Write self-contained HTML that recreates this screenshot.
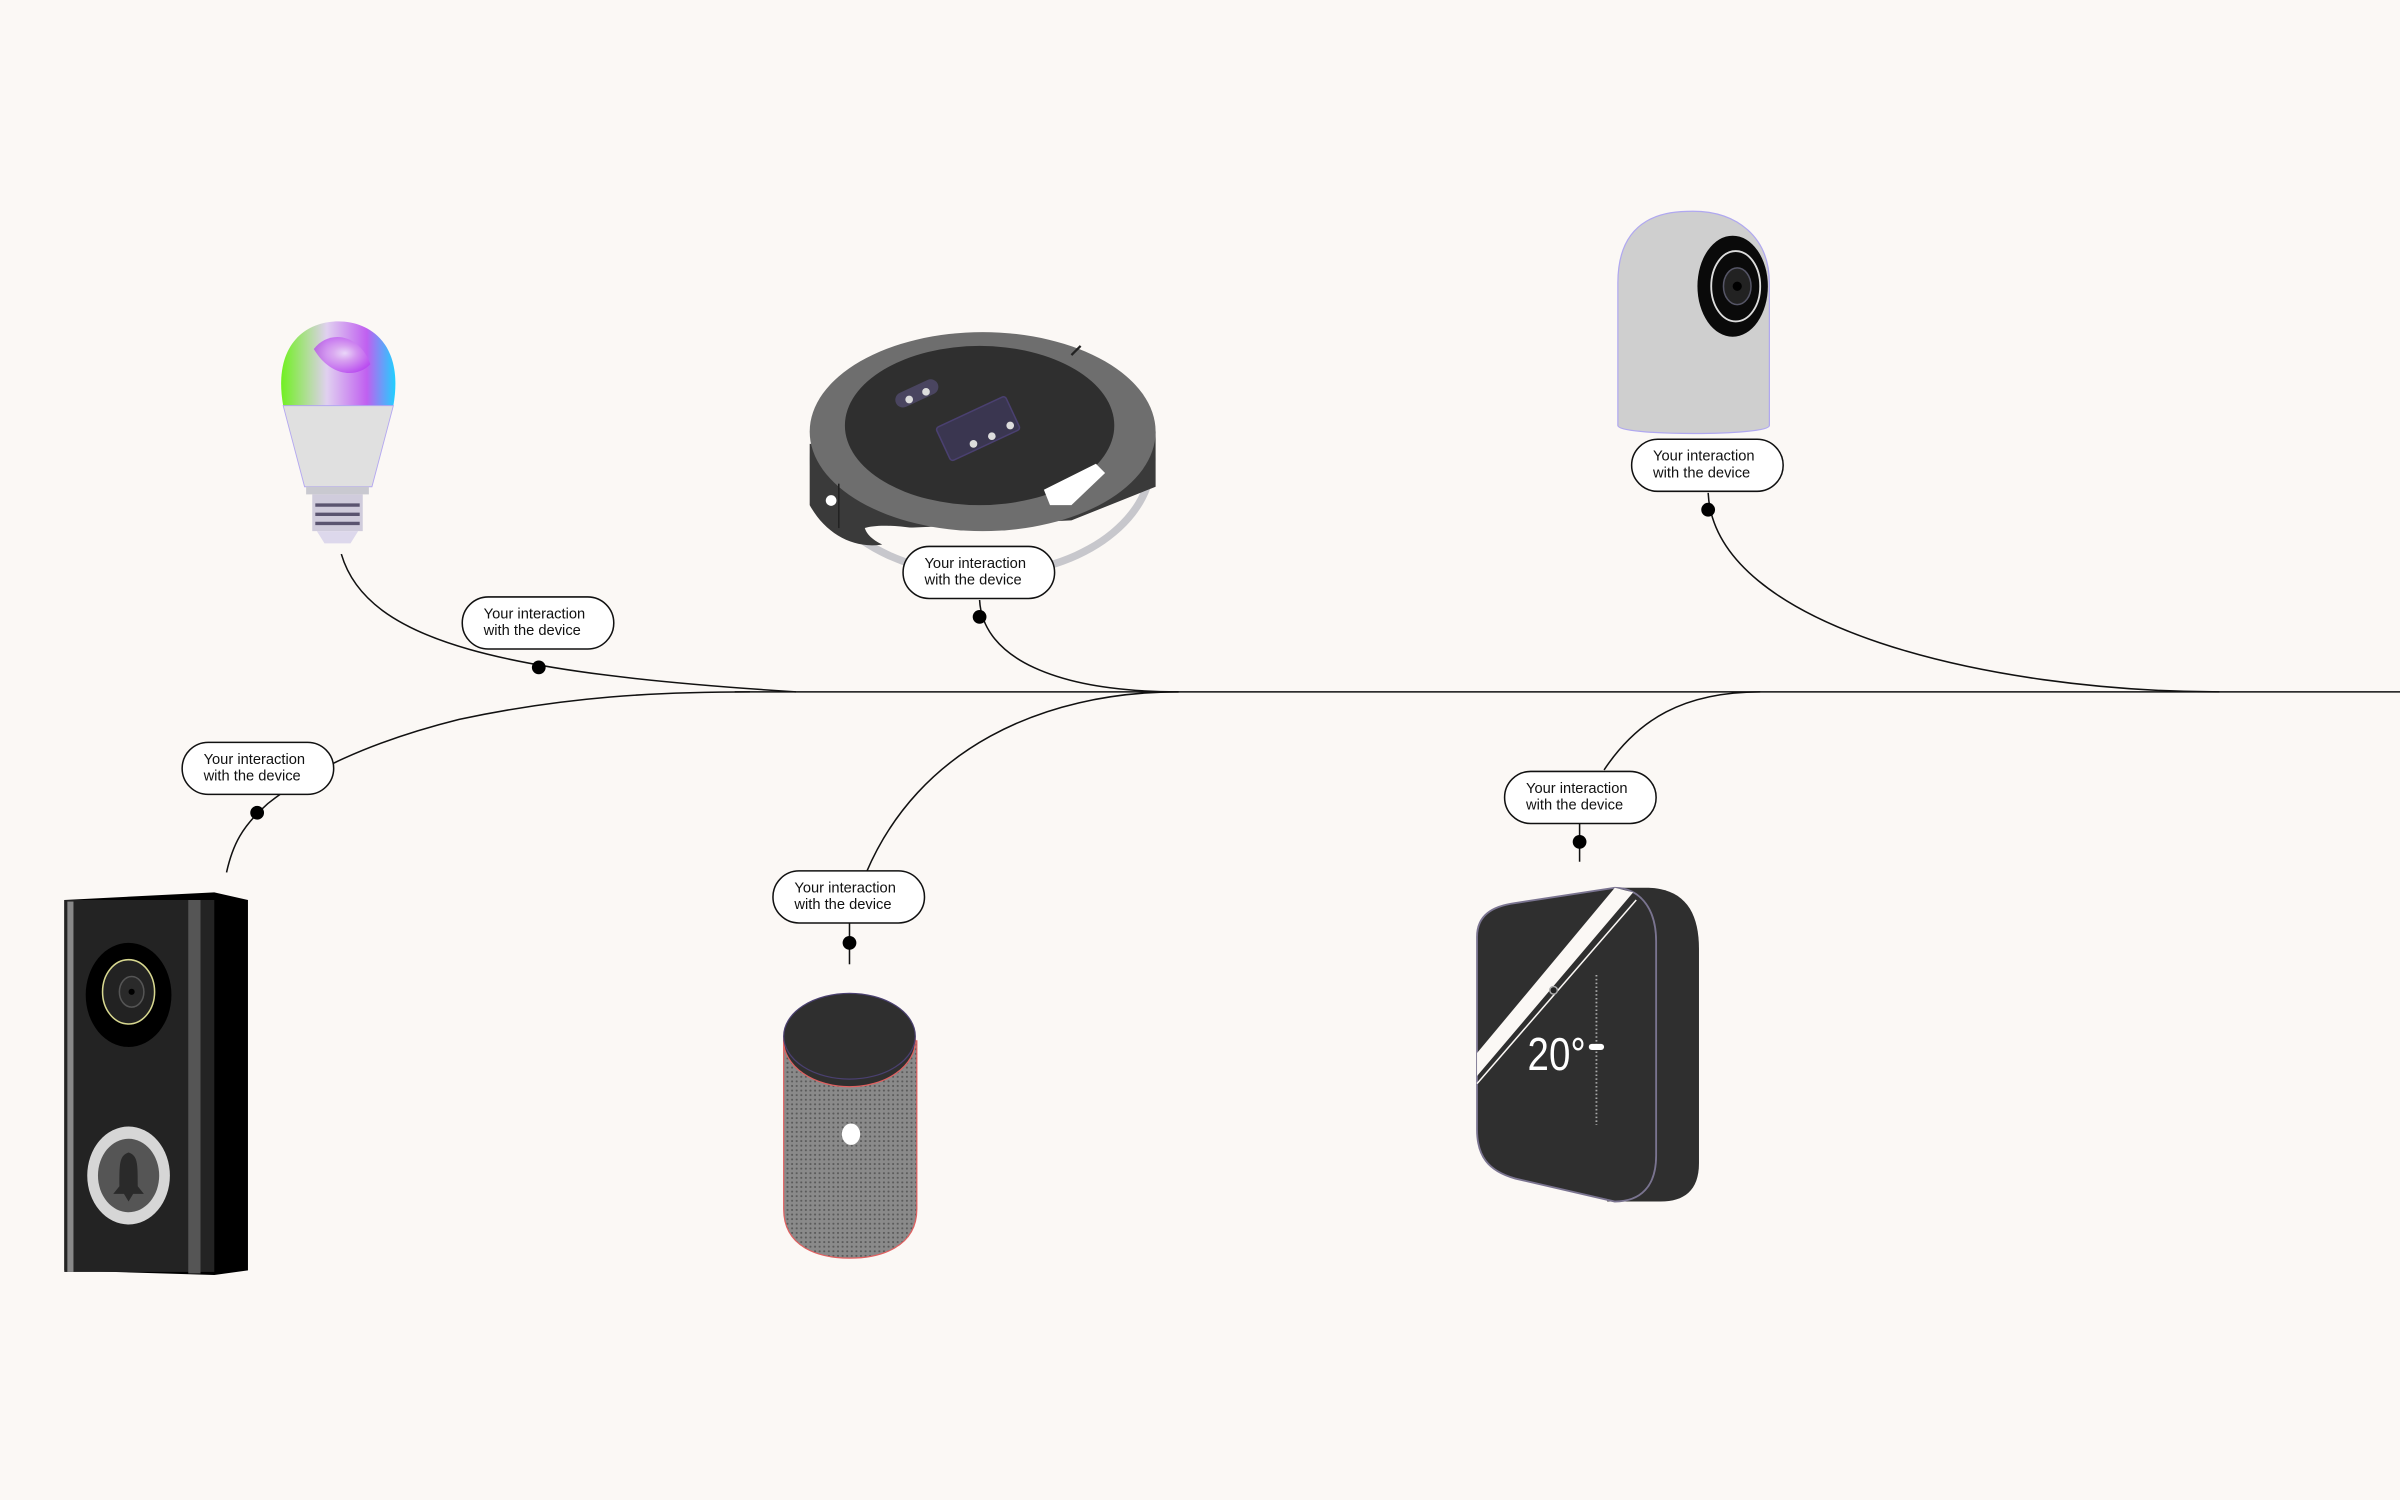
<!DOCTYPE html>
<html><head><meta charset="utf-8"><style>
html,body{margin:0;padding:0;background:#fbf8f5;}
svg{display:block}
text{font-family:"Liberation Sans",sans-serif;font-size:9.6px;fill:#111;}
</style></head><body>
<svg width="2400" height="1500" viewBox="0 0 1568 980" xmlns="http://www.w3.org/2000/svg">
<defs>
<radialGradient id="bulb" cx="0.55" cy="0.45" r="0.6">
<stop offset="0" stop-color="#f4eefc"/><stop offset="0.35" stop-color="#d9a0f0"/><stop offset="1" stop-color="#b030f0"/>
</radialGradient>
<linearGradient id="bulbh" x1="0" x2="1" y1="0" y2="0">
<stop offset="0" stop-color="#70f020"/><stop offset="0.4" stop-color="#e0d0f0"/><stop offset="0.75" stop-color="#c060f0"/><stop offset="1" stop-color="#20d0ff"/>
</linearGradient>
<pattern id="dots" width="3" height="3" patternUnits="userSpaceOnUse"><rect width="3" height="3" fill="#8a8a8a"/><circle cx="1.5" cy="1.5" r="0.7" fill="#5a5a5a"/></pattern>
</defs>
<rect width="1568" height="980" fill="#fbf8f5"/>

<g fill="none" stroke="#111" stroke-width="1">
<path d="M480,452 L1568,452"/>
<path d="M223,362 C240,420 330,440 520,452"/>
<path d="M148,570 C152,552 158,540 175,525 C200,505 240,485 300,470 C370,455 430,452 490,452"/>
<path d="M640,392 C642,430 690,452 770,452"/>
<path d="M555,630 L555,603"/>
<path d="M566,570 C600,490 680,452 770,452"/>
<path d="M1116,322 C1120,410 1300,452 1450,452"/>
<path d="M1032,563 L1032,538"/>
<path d="M1048,503 C1070,470 1100,452 1150,452"/>
</g>
<g fill="#000">
<circle cx="352" cy="436" r="4.5"/>
<circle cx="168" cy="531" r="4.5"/>
<circle cx="640" cy="403" r="4.5"/>
<circle cx="555" cy="616" r="4.5"/>
<circle cx="1116" cy="333" r="4.5"/>
<circle cx="1032" cy="550" r="4.5"/>
</g>

<!-- bulb -->
<g>
<path d="M185,265 C178,225 200,210 221,210 C242,210 264,225 257,265 Z" fill="url(#bulbh)"/>
<path d="M205,228 C215,215 235,218 242,238 C232,248 215,245 205,228Z" fill="url(#bulb)" opacity="0.7"/>
<path d="M185,265 L257,265 L243,318 L199,318 Z" fill="#e0e0e0" stroke="#b4a8f0" stroke-width="0.6"/>
<rect x="200" y="318" width="41" height="5" fill="#c9c9d0"/>
<rect x="204" y="323" width="33" height="24" fill="#d0ccdc"/>
<g stroke="#5a5470" stroke-width="2.2"><line x1="206" y1="330" x2="235" y2="330"/><line x1="206" y1="336" x2="235" y2="336"/><line x1="206" y1="342" x2="235" y2="342"/></g>
<path d="M207,347 L234,347 L229,355 L212,355Z" fill="#ddd8ec"/>
</g>

<!-- robot vacuum -->
<g>
<ellipse cx="642" cy="300" rx="113" ry="78" fill="#c7c7cc"/>
<ellipse cx="642" cy="300" rx="108" ry="73" fill="#fbf8f5"/>
<path d="M529,290 L529,330 C540,350 560,360 580,355 L590,345 L700,340 L755,318 L755,282 Z" fill="#3a3a3a"/>
<ellipse cx="642" cy="282" rx="113" ry="65" fill="#6e6e6e"/>
<ellipse cx="640" cy="278" rx="88" ry="52" fill="#2f2f2f"/>
<path d="M565,345 C580,340 620,348 660,358 L600,362 C585,360 568,355 565,345Z" fill="#fbf8f5"/>
<rect x="584" y="252" width="30" height="10" rx="5" fill="#4a4560" transform="rotate(-25 599 257)"/>
<circle cx="594" cy="261" r="2.5" fill="#ddd"/><circle cx="605" cy="256" r="2.5" fill="#ddd"/>
<rect x="614" y="268" width="50" height="24" rx="2" fill="#3a3650" stroke="#4a4070" transform="rotate(-25 639 280)"/>
<circle cx="636" cy="290" r="2.5" fill="#ddd"/><circle cx="648" cy="285" r="2.5" fill="#ddd"/><circle cx="660" cy="278" r="2.5" fill="#ddd"/>
<path d="M682,320 L716,303 L722,309 L700,330 L686,330 Z" fill="#fff"/>
<circle cx="543" cy="327" r="3.5" fill="#fff"/>
<line x1="548" y1="316" x2="548" y2="345" stroke="#222"/>
<line x1="700" y1="232" x2="706" y2="226" stroke="#222" stroke-width="1.5"/>
</g>

<!-- camera -->
<g>
<path d="M1057,185 C1057,140 1090,138 1106,138 C1135,138 1156,155 1156,185 L1156,278 C1156,285 1057,285 1057,278 Z" fill="#cfcfcf" stroke="#b0a8f0" stroke-width="0.8"/>
<ellipse cx="1132" cy="187" rx="23" ry="33" fill="#0a0a0a"/>
<ellipse cx="1134" cy="187" rx="16" ry="23" fill="none" stroke="#ddd" stroke-width="1.2"/>
<ellipse cx="1135" cy="187" rx="9" ry="12" fill="#222" stroke="#556" />
<circle cx="1135" cy="187" r="3" fill="#000"/>
</g>

<!-- doorbell -->
<g>
<path d="M42,588 L140,583 L162,588 L162,830 L140,833 L42,830 Z" fill="#000"/>
<rect x="42" y="588" width="98" height="243" fill="#232323"/>
<rect x="44" y="589" width="4" height="242" fill="#888"/>
<rect x="123" y="588" width="8" height="244" fill="#555"/>
<ellipse cx="84" cy="650" rx="28" ry="34" fill="#000"/>
<ellipse cx="84" cy="648" rx="17" ry="21" fill="#222" stroke="#d8d890" stroke-width="1"/>
<ellipse cx="86" cy="648" rx="8" ry="10" fill="#2a2a2a" stroke="#555"/>
<circle cx="86" cy="648" r="2" fill="#000"/>
<ellipse cx="84" cy="768" rx="27" ry="32" fill="#d6d6d6"/>
<ellipse cx="84" cy="768" rx="20" ry="24" fill="#555"/>
<path d="M84,753 C78,755 78,760 78,775 L74,780 L94,780 L90,775 C90,760 90,755 84,753Z M81,780 L87,780 L84,785Z" fill="#2a2a2a"/>
</g>

<!-- speaker -->
<g>
<path d="M512,680 L512,790 C512,815 535,822 555,822 C575,822 599,815 599,790 L599,680 Z" fill="url(#dots)" stroke="#e06060" stroke-width="0.8"/>
<ellipse cx="555" cy="680" rx="43" ry="30" fill="#2f2f2f" stroke="#e06060" stroke-width="0.8"/>
<ellipse cx="555" cy="677" rx="43" ry="28" fill="#2f2f2f" stroke="#4a4070" stroke-width="0.8"/>
<ellipse cx="556" cy="741" rx="6" ry="7" fill="#fff"/>
</g>

<!-- thermostat -->
<g>
<path d="M1055,580 L1075,580 C1100,580 1110,595 1110,620 L1110,760 C1110,778 1100,785 1085,785 L1050,785 Z" fill="#2f2f2f"/>
<path d="M990,590 L1055,580 C1070,580 1082,592 1082,615 L1082,755 C1082,775 1072,785 1055,785 L990,770 C972,765 965,755 965,738 L965,612 C965,598 975,592 990,590Z" fill="#2f2f2f" stroke="#7a7490" stroke-width="1.2"/>
<path d="M1055,580 L1067,583 L965,703 L965,688 Z" fill="#fbf8f5"/>
<line x1="1069" y1="588" x2="965" y2="708" stroke="#fbf8f5" stroke-width="1"/>
<text x="998" y="699" textLength="38" lengthAdjust="spacingAndGlyphs" style="font-size:30px;fill:#fff">20°</text>
<line x1="1043" y1="637" x2="1043" y2="735" stroke="#aaa" stroke-width="1.2" stroke-dasharray="1 1.5"/>
<rect x="1038" y="682" width="10" height="4" rx="2" fill="#fff"/>
<circle cx="1015" cy="647" r="2.5" fill="#222" stroke="#aaa"/>
</g>

<g fill="#fff" stroke="#111" stroke-width="1">
<rect x="302" y="390" width="99" height="34" rx="17"/>
<rect x="119" y="485" width="99" height="34" rx="17"/>
<rect x="590" y="357" width="99" height="34" rx="17"/>
<rect x="505" y="569" width="99" height="34" rx="17"/>
<rect x="1066" y="287" width="99" height="34" rx="17"/>
<rect x="983" y="504" width="99" height="34" rx="17"/>
</g>
<text x="316" y="404">Your interaction</text><text x="316" y="415">with the device</text>
<text x="133" y="499">Your interaction</text><text x="133" y="510">with the device</text>
<text x="604" y="371">Your interaction</text><text x="604" y="382">with the device</text>
<text x="519" y="583">Your interaction</text><text x="519" y="594">with the device</text>
<text x="1080" y="301">Your interaction</text><text x="1080" y="312">with the device</text>
<text x="997" y="518">Your interaction</text><text x="997" y="529">with the device</text>
</svg>
</body></html>
